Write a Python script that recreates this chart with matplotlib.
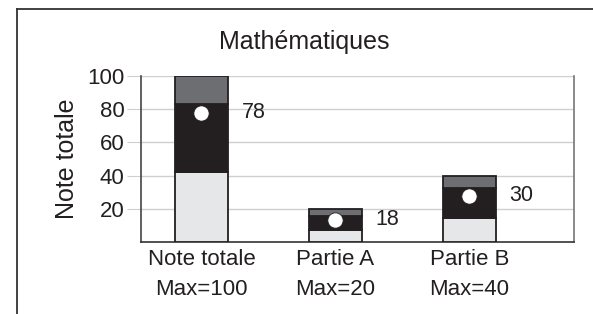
import matplotlib.pyplot as plt
from matplotlib.lines import Line2D

plt.rcParams["font.family"] = ["Liberation Sans", "DejaVu Sans"]

categories = ["Note totale", "Partie A", "Partie B"]
maxima = ["Max=100", "Max=20", "Max=40"]
low = [42, 7, 14.5]       # light grey segment
mid = [41, 9, 18]         # black segment
high = [17, 4, 7.5]       # dark grey segment
dots = [78, 13.5, 28]     # white circle position
scores = [78, 18, 30]     # printed score

light, black, dark = "#e6e7e8", "#231f20", "#6d6e71"
edge = "#231f20"

fig = plt.figure(figsize=(5.93, 3.14), dpi=100)
ax = fig.add_axes([0.238, 0.229, 0.730, 0.529])

x = range(len(categories))
w = 0.4
ax.bar(x, low, w, color=light, edgecolor=edge, linewidth=1.3, zorder=3)
ax.bar(x, mid, w, bottom=low, color=black, edgecolor=edge, linewidth=1.3, zorder=3)
bottoms = [a + b for a, b in zip(low, mid)]
ax.bar(x, high, w, bottom=bottoms, color=dark, edgecolor=edge, linewidth=1.3, zorder=3)
ax.plot(x, dots, "o", color="white", markersize=11, markeredgecolor=edge,
        markeredgewidth=0.6, zorder=4)
for i, (d, s) in enumerate(zip(dots, scores)):
    ax.text(i + w / 2 + 0.1, d, str(s), fontsize=15.5, va="center", ha="left",
            color="#231f20")

ax.set_xlim(-0.45, 2.78)
ax.set_ylim(0, 100)
ax.set_yticks([20, 40, 60, 80, 100])
ax.yaxis.grid(True, color="#cfcfcf", linewidth=1, zorder=0)
ax.tick_params(axis="y", length=10, color="#cfcfcf", labelsize=16, pad=2,
               labelcolor="#231f20")
ax.set_xticks(list(x))
ax.set_xticklabels([f"{c}\n{m}" for c, m in zip(categories, maxima)],
                   fontsize=16, linespacing=1.55, color="#231f20")
ax.tick_params(axis="x", length=0, pad=5)
ax.spines["top"].set_visible(False)
ax.spines["left"].set_color("#444444")
ax.spines["bottom"].set_color("#333333")
ax.spines["right"].set_color("#777777")
for s in ax.spines.values():
    s.set_linewidth(1.2)

fig.text(0.513, 0.866, "Mathématiques", fontsize=18, ha="center", va="center",
         color="#231f20")
ax.set_ylabel("Note totale", fontsize=18, labelpad=6, color="#231f20")

# partial frame around the figure
fig.add_artist(Line2D([0.029, 0.029], [0, 0.972], color="#333333", linewidth=1.3))
fig.add_artist(Line2D([0.029, 1.0], [0.972, 0.972], color="#333333", linewidth=1.3))

fig.savefig("out.png", dpi=100)
